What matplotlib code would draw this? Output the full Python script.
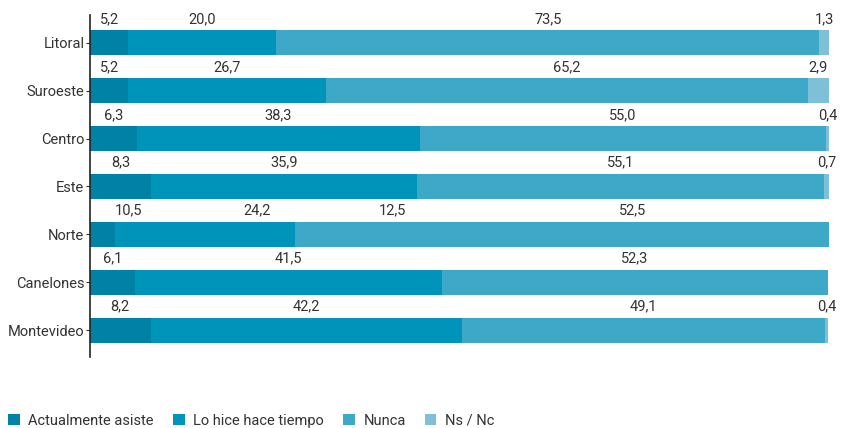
import matplotlib
matplotlib.use("Agg")
import matplotlib.pyplot as plt
import numpy as np

plt.rcParams['font.family'] = ['Roboto', 'DejaVu Sans']

regions = ["Litoral", "Suroeste", "Centro", "Este", "Norte", "Canelones", "Montevideo"]
series_names = ["Actualmente asiste", "Lo hice hace tiempo", "Nunca", "Ns / Nc"]
colors = ["#0081a6", "#0094ba", "#3ea8c8", "#7ec0d8"]

# drawn bar widths (%)
actualmente = [5.2, 5.2, 6.3, 8.3, 3.4, 6.1, 8.2]
hace_tiempo = [20.0, 26.7, 38.3, 35.9, 24.4, 41.5, 42.2]
nunca = [73.5, 65.2, 55.0, 55.1, 72.2, 52.3, 49.1]
ns_nc = [1.3, 2.9, 0.4, 0.7, 0.0, 0.0, 0.4]

# printed labels (Norte labels don't match its bar in the original)
labels = [
    [5.2, 20.0, 73.5, 1.3],
    [5.2, 26.7, 65.2, 2.9],
    [6.3, 38.3, 55.0, 0.4],
    [8.3, 35.9, 55.1, 0.7],
    [10.5, 24.2, 12.5, 52.5],
    [6.1, 41.5, 52.3, None],
    [8.2, 42.2, 49.1, 0.4],
]

data = np.array([actualmente, hace_tiempo, nunca, ns_nc]).T
starts = np.cumsum(data, axis=1) - data
y = np.arange(len(regions))
bar_h = 0.52
txt_color = "#333333"

fig = plt.figure(figsize=(8.44, 4.28), dpi=100)
ax = fig.add_axes([90 / 844, 1 - 357 / 428, 739 / 844, 342 / 428])

handles = []
for i in range(4):
    rects = ax.barh(y, data[:, i], left=starts[:, i], height=bar_h,
                    color=colors[i], label=series_names[i], linewidth=0)
    handles.append(rects)

for r, row in enumerate(labels):
    vals = np.array([v if v is not None else 0 for v in row])
    centers = np.cumsum(vals) - vals / 2
    for v, c in zip(row, centers):
        if v is None:
            continue
        ax.text(c, y[r] - bar_h / 2 - 0.09, f"{v:.1f}".replace(".", ","),
                ha="center", va="bottom", fontsize=10.5, color=txt_color)

ax.set_xlim(0, 100)
ax.set_ylim(len(regions) - 1 + 0.56, -0.58)
ax.set_yticks(y)
ax.set_yticklabels(regions, fontsize=10.5, color=txt_color)
ax.tick_params(axis="y", length=3, width=0.8, pad=1, colors=txt_color)
ax.xaxis.set_visible(False)
for s in ["top", "right", "bottom"]:
    ax.spines[s].set_visible(False)
ax.spines["left"].set_linewidth(1.2)
ax.spines["left"].set_color("#222222")

leg = fig.legend(handles=handles, loc="lower left", bbox_to_anchor=(-0.006, -0.03),
                 ncol=4, frameon=False, fontsize=10.5, handlelength=0.8,
                 handleheight=0.8, handletextpad=0.6, columnspacing=1.3,
                 labelcolor=txt_color)

fig.savefig("out.png", dpi=100)
